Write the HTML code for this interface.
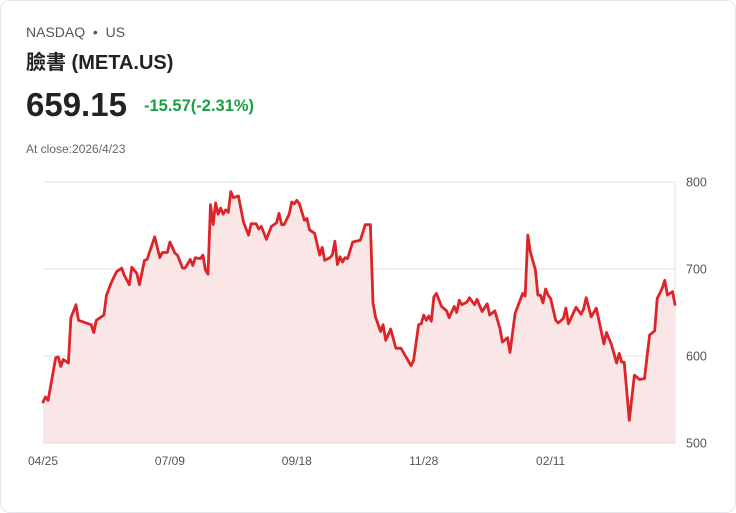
<!DOCTYPE html>
<html><head><meta charset="utf-8">
<style>
html,body{margin:0;padding:0;background:#fff;}
body{width:736px;height:513px;overflow:hidden;font-family:"Liberation Sans","Noto Sans CJK TC",sans-serif;}
.card{position:absolute;left:0;top:0;width:734px;height:511px;border:1px solid #e3e6ea;border-radius:10px;background:#fff;}
.ex{position:absolute;left:25px;top:23px;font-size:14px;color:#555;}
.title{position:absolute;left:25px;top:45px;font-size:20px;font-weight:bold;color:#222;}
.price{position:absolute;left:25px;top:85px;font-size:33px;font-weight:bold;color:#222;}
.chg{position:absolute;left:143px;top:96px;font-size:16.5px;font-weight:bold;color:#1a9f45;}
.close{position:absolute;left:25px;top:141px;font-size:12px;color:#666;}
svg{position:absolute;left:0;top:0;}
</style></head><body>
<div class="card">
<div class="ex">NASDAQ &nbsp;•&nbsp; US</div>
<div class="title">臉書 (META.US)</div>
<div class="price">659.15</div>
<div class="chg">-15.57(-2.31%)</div>
<div class="close">At close:2026/4/23</div>
</div>
<svg id="chart" width="736" height="513"></svg>
<script>
const days=[0,1,2,5,6,7,8,10,11,13,14,17,19,20,21,24,25,27,29,31,32,34,35,37,38,40,41,43,44,46,47,49,50,52,53,55,56,58,59,60,62,63,64,65,66,67,68,69,70,71,72,73,74,75,77,79,81,82,84,85,86,88,90,92,93,94,95,97,98,99,100,101,103,104,105,107,109,110,111,113,114,115,116,117,118,119,120,122,125,127,129,130,131,133,134,135,137,139,141,143,145,146,148,149,150,151,152,153,154,155,157,159,160,162,163,164,165,167,168,170,171,173,175,176,178,180,181,183,184,186,189,190,191,192,194,195,196,197,198,199,200,202,203,205,206,207,210,212,213,214,216,218,221,222,224,226,227,228,229,231,233,235,237,239,241,242,244,245,246,248,249];
const prices=[547,553,549,598,599,588,596,592,644,659,641,638,636,627,641,647,670,685,697,701,693,682,702,695,682,710,711,728,737,713,719,719,731,718,716,701,701,711,704,713,712,716,699,694,774,751,776,763,770,763,768,765,789,782,784,754,739,752,752,746,749,734,749,753,764,751,751,763,777,775,779,775,756,758,745,741,716,725,710,713,716,732,705,714,708,713,712,731,733,751,751,661,645,628,636,618,631,609,609,599,589,595,636,637,647,641,646,640,668,672,657,652,644,657,650,664,659,662,667,659,665,651,660,647,652,632,616,621,604,649,672,669,739,720,699,670,670,661,677,670,666,641,638,643,655,637,656,648,654,667,645,655,614,627,613,592,603,593,593,526,578,573,574,624,629,666,678,687,670,674,659.15];
const yTicks=[500,600,700,800];
const xTickDays=[0,50,100,150,200];
const xTickLabels=["04/25","07/09","09/18","11/28","02/11"];
const NS='http://www.w3.org/2000/svg';
const svg=document.getElementById('chart');
const L=43,R=675,T=182,B=443,maxDay=249,ymin=500,ymax=800;
const X=d=>L+(R-L)*d/maxDay;
const Y=v=>B-(B-T)*(v-ymin)/(ymax-ymin);
function mk(t,a){const e=document.createElementNS(NS,t);for(const k in a)e.setAttribute(k,a[k]);svg.appendChild(e);return e;}
yTicks.forEach(v=>{
 const g=mk('line',{x1:L,x2:R,y1:Y(v),y2:Y(v),stroke:'#e2e2e2','stroke-width':1});
 
 
 const t=mk('text',{x:686,y:Y(v)+4.5,'font-size':12.5,fill:'#555','font-family':'Liberation Sans'});
 t.textContent=v;
 
 
});
const ax=mk('line',{x1:R,x2:R,y1:T,y2:B,stroke:'#e2e2e2','stroke-width':1});


xTickDays.forEach((d,i)=>{
 const t=mk('text',{x:X(d),y:465,'font-size':12,fill:'#555','text-anchor':'middle','font-family':'Liberation Sans'});
 t.textContent=xTickLabels[i];
 
 
});
let pts=days.map((d,i)=>X(d).toFixed(1)+','+Y(prices[i]).toFixed(1));
const area=mk('path',{d:'M'+X(days[0])+','+B+' L'+pts.join(' L')+' L'+X(days[days.length-1])+','+B+' Z',fill:'#fbe6e7',stroke:'none'});


const ln=mk('path',{d:'M'+pts.join(' L'),fill:'none',stroke:'#dd2428','stroke-width':2.8,'stroke-linejoin':'round','stroke-linecap':'round'});


const base=mk('line',{x1:L,x2:R,y1:B,y2:B,stroke:'#d8d8d8','stroke-width':1});


</script>
</body></html>
